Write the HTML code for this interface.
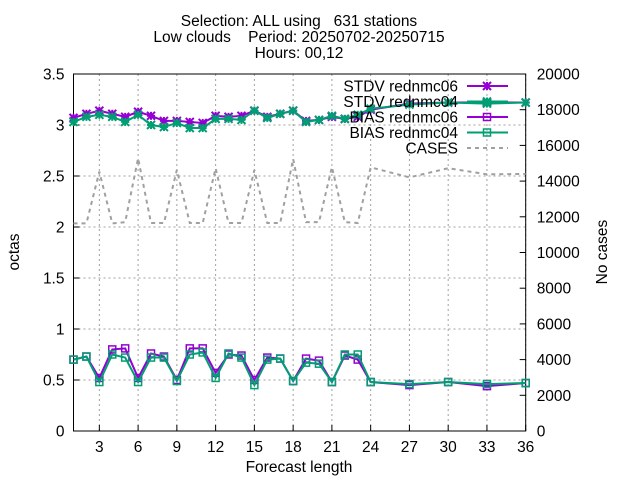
<!DOCTYPE html>
<html><head><meta charset="utf-8"><style>
body{margin:0;background:#fff;}
svg{display:block;font-family:"Liberation Sans",sans-serif;}
text{white-space:pre;}
</style></head><body>
<svg id="chart" width="640" height="480" xmlns="http://www.w3.org/2000/svg">
<g font-size="15.5" text-anchor="middle" fill="#000">
<text x="299" y="26" xml:space="preserve">Selection: ALL using   631 stations</text>
<text x="299" y="42" xml:space="preserve">Low clouds    Period: 20250702-20250715</text>
<text x="299" y="58">Hours: 00,12</text>
</g>
<g id="grid"></g>
<g id="axes"></g>
<g id="series"></g>
<g id="legend"></g>
<text x="19" y="252" font-size="15.5" text-anchor="middle" transform="rotate(-90 19 252)">octas</text>
<text x="607" y="252" font-size="15.5" text-anchor="middle" transform="rotate(-90 607 252)">No cases</text>
<text x="299" y="472" font-size="15.5" text-anchor="middle">Forecast length</text>
</svg>
<script>
const leads=[1,2,3,4,5,6,7,8,9,10,11,12,13,14,15,16,17,18,19,20,21,22,23,24,27,30,33,36];
const stdv06=[3.07,3.11,3.14,3.11,3.08,3.13,3.09,3.04,3.04,3.03,3.02,3.09,3.08,3.09,3.14,3.08,3.11,3.14,3.04,3.05,3.08,3.06,3.08,3.15,3.21,3.22,3.22,3.22];
const stdv04=[3.03,3.08,3.10,3.08,3.03,3.10,3.00,2.98,3.02,2.97,2.97,3.06,3.06,3.05,3.14,3.07,3.11,3.14,3.03,3.05,3.09,3.06,3.10,3.16,3.20,3.22,3.21,3.22];
const bias06=[0.70,0.73,0.52,0.80,0.81,0.52,0.76,0.73,0.50,0.81,0.81,0.57,0.75,0.74,0.50,0.72,0.71,0.49,0.71,0.69,0.48,0.74,0.70,0.48,0.45,0.48,0.44,0.47];
const bias04=[0.70,0.73,0.48,0.75,0.72,0.48,0.72,0.72,0.49,0.75,0.77,0.52,0.76,0.72,0.45,0.70,0.71,0.49,0.67,0.66,0.48,0.75,0.75,0.48,0.46,0.48,0.46,0.47];
const cases=[11630,11630,14530,11630,11700,15280,11650,11650,14620,11650,11650,14720,11650,11650,14620,11650,11650,15240,11700,11700,14790,11700,11650,14770,14210,14720,14380,14400];
const xTicks=[3,6,9,12,15,18,21,24,27,30,33,36];
const yTicks=["0","0.5","1","1.5","2","2.5","3","3.5"];
const y2Ticks=["0","2000","4000","6000","8000","10000","12000","14000","16000","18000","20000"];
const L=73.5,R=525.7,T=74,B=431;
const X=v=>L+(v-1)*(R-L)/35;
const Y=v=>B-v*(B-T)/3.5;
const Y2=v=>B-v*(B-T)/20000;
const FS=15.5;
const NS="http://www.w3.org/2000/svg";
function mk(tag,attrs,parent){const e=document.createElementNS(NS,tag);for(const k in attrs)e.setAttribute(k,attrs[k]);parent.appendChild(e);return e;}
const grid=document.getElementById('grid'),axes=document.getElementById('axes'),ser=document.getElementById('series'),leg=document.getElementById('legend');
xTicks.forEach(t=>{
 const l=mk('line',{x1:X(t),x2:X(t),y1:T,y2:B,stroke:'#a0a0a0','stroke-dasharray':'2,3','stroke-width':1},grid);
 
 
 const tk=mk('line',{x1:X(t),x2:X(t),y1:B,y2:B-6,stroke:'#000'},axes);
 
 
 const tx=mk('text',{x:X(t),y:B+21,'font-size':FS,'text-anchor':'middle'},axes);tx.textContent=t;
 
 
});
yTicks.forEach(s=>{const v=parseFloat(s);
 if(v>0&&v<3.5){const l=mk('line',{x1:L,x2:R,y1:Y(v),y2:Y(v),stroke:'#a0a0a0','stroke-dasharray':'2,3'},grid);
 
 }
 mk('line',{x1:L,x2:L+6,y1:Y(v),y2:Y(v),stroke:'#000'},axes);
 const tx=mk('text',{x:L-9,y:Y(v)+5.5,'font-size':FS,'text-anchor':'end'},axes);tx.textContent=s;
 
 
});
y2Ticks.forEach(s=>{const v=parseFloat(s);
 mk('line',{x1:R,x2:R-6,y1:Y2(v),y2:Y2(v),stroke:'#000'},axes);
 const tx=mk('text',{x:R+11,y:Y2(v)+5.5,'font-size':FS,'text-anchor':'start'},axes);tx.textContent=s;
 
 
});
const fr=mk('rect',{x:L,y:T,width:R-L,height:B-T,fill:'none',stroke:'#000','stroke-width':1},axes);


function star(x,y,c,p){const g=mk('g',{stroke:c,'stroke-width':2},p);
 mk('line',{x1:x-4,x2:x+4,y1:y,y2:y},g);mk('line',{x1:x,x2:x,y1:y-4,y2:y+4},g);
 mk('line',{x1:x-4,x2:x+4,y1:y-4,y2:y+4},g);mk('line',{x1:x-4,x2:x+4,y1:y+4,y2:y-4},g);return g;}
function sq(x,y,c,p){return mk('rect',{x:x-3.5,y:y-3.5,width:7,height:7,fill:'none',stroke:c,'stroke-width':1.5},p);}
const cp=mk('polyline',{points:leads.map((l,i)=>X(l)+','+Y2(cases[i])).join(' '),fill:'none',stroke:'#a0a0a0','stroke-width':2,'stroke-dasharray':'4,4'},ser);


const defs=[['stdv-rednmc06',stdv06,'#9400d3',star],['stdv-rednmc04',stdv04,'#009e73',star],['bias-rednmc06',bias06,'#9400d3',sq],['bias-rednmc04',bias04,'#009e73',sq]];
defs.forEach(([n,d,c,m])=>{
 const g=mk('g',{},ser);
 
 
 mk('polyline',{points:leads.map((l,i)=>X(l)+','+Y(d[i])).join(' '),fill:'none',stroke:c,'stroke-width':2},g);
 leads.forEach((l,i)=>{const e=m(X(l),Y(d[i]),c,g);
 
 });
});
const items=[['STDV rednmc06','#9400d3',star,false],['STDV rednmc04','#009e73',star,false],['BIAS rednmc06','#9400d3',sq,false],['BIAS rednmc04','#009e73',sq,false],['CASES','#a0a0a0',null,true]];
items.forEach(([t,c,m,d],i)=>{const y=86+i*15.5;
 const g=mk('g',{},leg);
 
 
 const tx=mk('text',{x:458,y:y+5.5,'font-size':FS,'text-anchor':'end'},g);tx.textContent=t;
 mk('line',{x1:467,x2:508,y1:y,y2:y,stroke:c,'stroke-width':2,'stroke-dasharray':d?'4,4':'none'},g);
 if(m)m(487,y,c,g);
});
</script>
</body></html>
